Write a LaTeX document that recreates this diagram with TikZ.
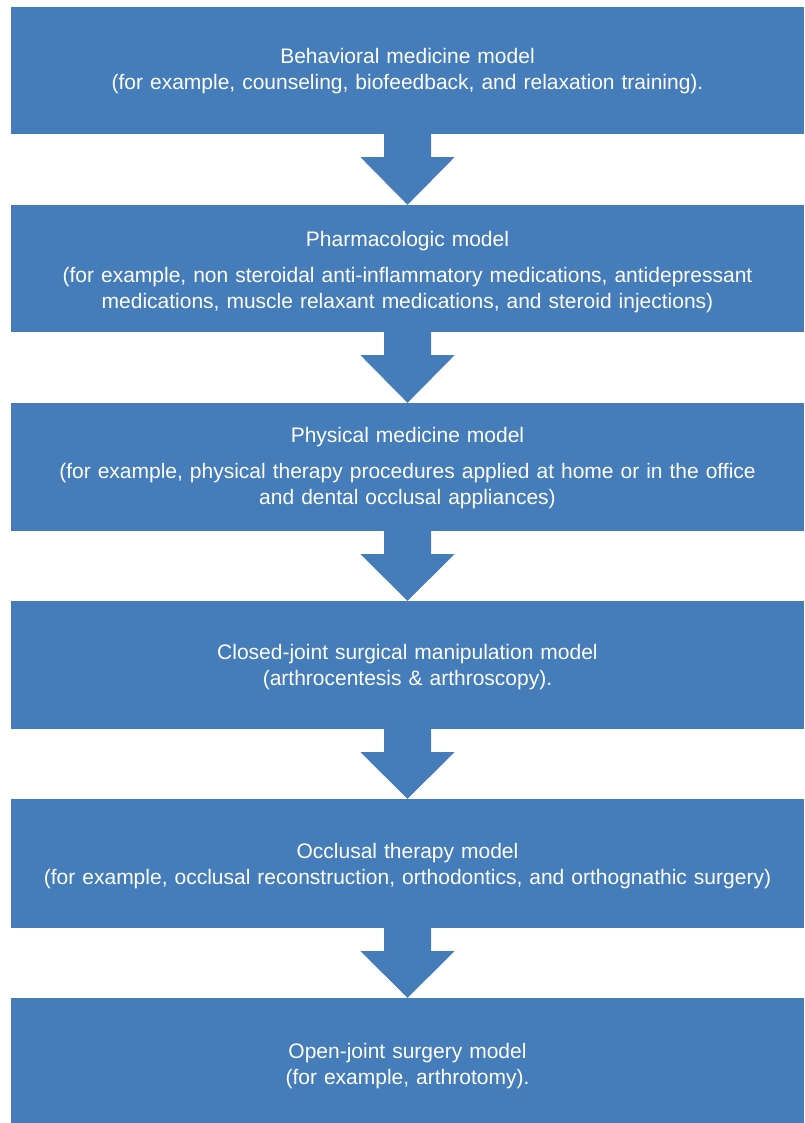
\documentclass[tikz,border=0pt]{standalone}
\usepackage{fontspec}
\setmainfont{Liberation Sans}
\usetikzlibrary{calc}
\definecolor{boxblue}{RGB}{69,124,186}
\tikzset{
  stage/.style={fill=boxblue, draw=none, minimum width=793pt, inner sep=0pt},
  stagetext/.style={text=white, text width=790pt, align=center, inner sep=0pt,
    font=\fontsize{21}{26}\selectfont},
}
% a stage box with its centred caption lowered by #2
\newcommand{\stagebox}[5]{%
  \node[stage, minimum height=#3,
        label={[stagetext, yshift=-#4]center:#5}] (#1) at #2 {};}
% block arrow from the bottom of one stage to the top of the next
\newcommand{\flowarrow}[2]{%
  \fill[boxblue] ($(#1.south)+(-23.5pt,0)$) -- ($(#1.south)+(23.5pt,0)$)
    -- ($(#1.south)+(23.5pt,-23pt)$) -- ($(#1.south)+(47pt,-23pt)$)
    -- (#2.north)
    -- ($(#1.south)+(-47pt,-23pt)$) -- ($(#1.south)+(-23.5pt,-23pt)$) -- cycle;}
\begin{document}
\begin{tikzpicture}
\useasboundingbox (0,0) rectangle (804pt,-1123pt);
\stagebox{s1}{(407.5pt,-70.5pt)}{127pt}{1pt}
  {Behavioral medicine model\\(for example, counseling, biofeedback, and relaxation training).}
\stagebox{s2}{(407.5pt,-268.5pt)}{127pt}{3.5pt}
  {Pharmacologic model\\[10pt](for example, non steroidal anti-inflammatory medications, antidepressant\\medications, muscle relaxant medications, and steroid injections)}
\stagebox{s3}{(407.5pt,-467pt)}{128pt}{1pt}
  {Physical medicine model\\[10pt](for example, physical therapy procedures applied at home or in the office\\and dental occlusal appliances)}
\stagebox{s4}{(407.5pt,-665pt)}{128pt}{2.5pt}
  {Closed-joint surgical manipulation model\\(arthrocentesis \& arthroscopy).}
\stagebox{s5}{(407.5pt,-863.5pt)}{129pt}{2.5pt}
  {Occlusal therapy model\\(for example, occlusal reconstruction, orthodontics, and orthognathic surgery)}
\stagebox{s6}{(407.5pt,-1060.5pt)}{125pt}{5.5pt}
  {Open-joint surgery model\\(for example, arthrotomy).}
\flowarrow{s1}{s2}
\flowarrow{s2}{s3}
\flowarrow{s3}{s4}
\flowarrow{s4}{s5}
\flowarrow{s5}{s6}
\end{tikzpicture}
\end{document}
